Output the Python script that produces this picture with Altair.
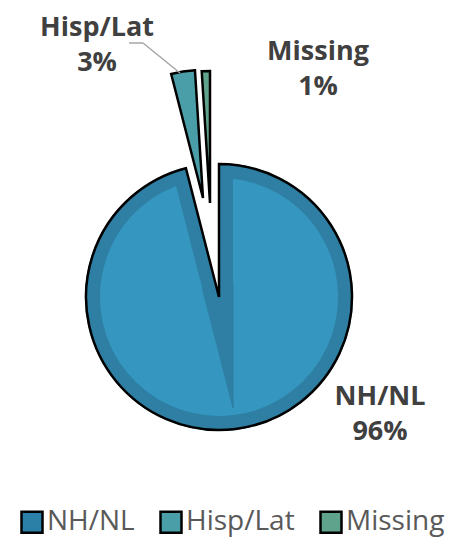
import math
import altair as alt
import pandas as pd

categories = ["NH/NL", "Hisp/Lat", "Missing"]
values = [96, 3, 1]
legend_colors = ["#2b80a8", "#4a9ea8", "#5fa38c"]

df = pd.DataFrame({"category": categories, "value": values, "order": [0, 1, 2]})

TWO_PI = 2 * math.pi
theta_scale = alt.Scale(domain=[0, 100], range=[0, TWO_PI])

base = (
    alt.Chart(df)
    .transform_window(end="sum(value)", sort=[alt.SortField("order")], frame=[None, 0])
    .transform_calculate(start="datum.end - datum.value",
                         label="[datum.category, datum.value + '%']")
)

th = alt.Theta("start:Q", scale=theta_scale)
th2 = alt.Theta2("end:Q")

# main slice centre (chart coords)
MX, MY, MR = 211, 289, 133
BAND = "#2e7fa3"
BW = 14  # bevel band width
half_gap = math.radians(360 * 4 / 100 / 2)
apex_d = BW / math.sin(half_gap)
AX = MX + apex_d * math.sin(half_gap)
AY = MY + apex_d * math.cos(half_gap)

main_fill = base.transform_filter(alt.datum.category == "NH/NL").mark_arc(
    x=MX, y=MY, outerRadius=MR, fill="#3597c0", stroke=BAND, strokeWidth=2 * BW
).encode(theta=th, theta2=th2)

# bevel wedge below the slice tip (edges parallel to the slice edges)
bevel = base.transform_filter(alt.datum.category != "NH/NL").mark_arc(
    x=AX, y=AY, outerRadius=apex_d + 12, fill=BAND, stroke=BAND, strokeWidth=1
).encode(theta=th, theta2=th2)

gap = base.transform_filter(alt.datum.category != "NH/NL").mark_arc(
    x=MX, y=MY, outerRadius=175, fill="white", stroke="white", strokeWidth=1
).encode(theta=th, theta2=th2)

ring = base.transform_filter(alt.datum.category == "NH/NL").mark_arc(
    x=MX, y=MY, innerRadius=MR + 1, outerRadius=MR + 25, fill="white"
).encode(theta=alt.value(0), theta2=alt.value(TWO_PI))

main_outline = base.transform_filter(alt.datum.category == "NH/NL").mark_arc(
    x=MX, y=MY, outerRadius=MR, fillOpacity=0, stroke="black", strokeWidth=2.5
).encode(theta=th, theta2=th2)

color = alt.Color("category:N",
                  scale=alt.Scale(domain=categories, range=legend_colors),
                  sort=categories,
                  legend=alt.Legend(orient="none", legendX=10, legendY=500,
                                    direction="horizontal", title=None,
                                    symbolType="square", symbolSize=441,
                                    symbolStrokeColor="black", symbolStrokeWidth=2.5,
                                    labelFontSize=28, labelColor="#595959",
                                    labelFont="Open Sans", labelOffset=1,
                                    columnPadding=20, symbolOpacity=1))

hisp = base.transform_filter(alt.datum.category == "Hisp/Lat").mark_arc(
    x=195, y=190, outerRadius=128, stroke="black", strokeWidth=2.5, opacity=1
).encode(theta=th, theta2=th2, color=color)

missing = base.transform_filter(alt.datum.category == "Missing").mark_arc(
    x=202, y=195, outerRadius=132, stroke="black", strokeWidth=2.5, opacity=1
).encode(theta=th, theta2=th2, color=color)

def label(cat, x, y):
    return base.transform_filter(alt.datum.category == cat).mark_text(
        x=x, y=y, align="center", baseline="alphabetic", font="Open Sans",
        fontWeight="bold", fontSize=27, color="#404040", lineHeight=35
    ).encode(text="label:N")

lab_h = label("Hisp/Lat", 89, 28)
lab_m = label("Missing", 310, 52)
lab_n = label("NH/NL", 372, 397)

lead1 = base.transform_filter(alt.datum.category == "Hisp/Lat").mark_rule(
    color="#a6a6a6", strokeWidth=1.5
).encode(x=alt.value(121), x2=alt.value(135), y=alt.value(35), y2=alt.value(35))
lead2 = base.transform_filter(alt.datum.category == "Hisp/Lat").mark_rule(
    color="#a6a6a6", strokeWidth=1.5
).encode(x=alt.value(135), x2=alt.value(172), y=alt.value(35), y2=alt.value(65))

chart = alt.layer(
    main_fill, bevel, gap, ring, main_outline, hisp, missing, lead1, lead2, lab_h, lab_m, lab_n
).properties(
    width=437, height=530, autosize=alt.AutoSizeParams(type="none"), padding=0
).configure_view(stroke=None)

chart.save("out.html", embed_options={"renderer": "svg", "actions": False})
